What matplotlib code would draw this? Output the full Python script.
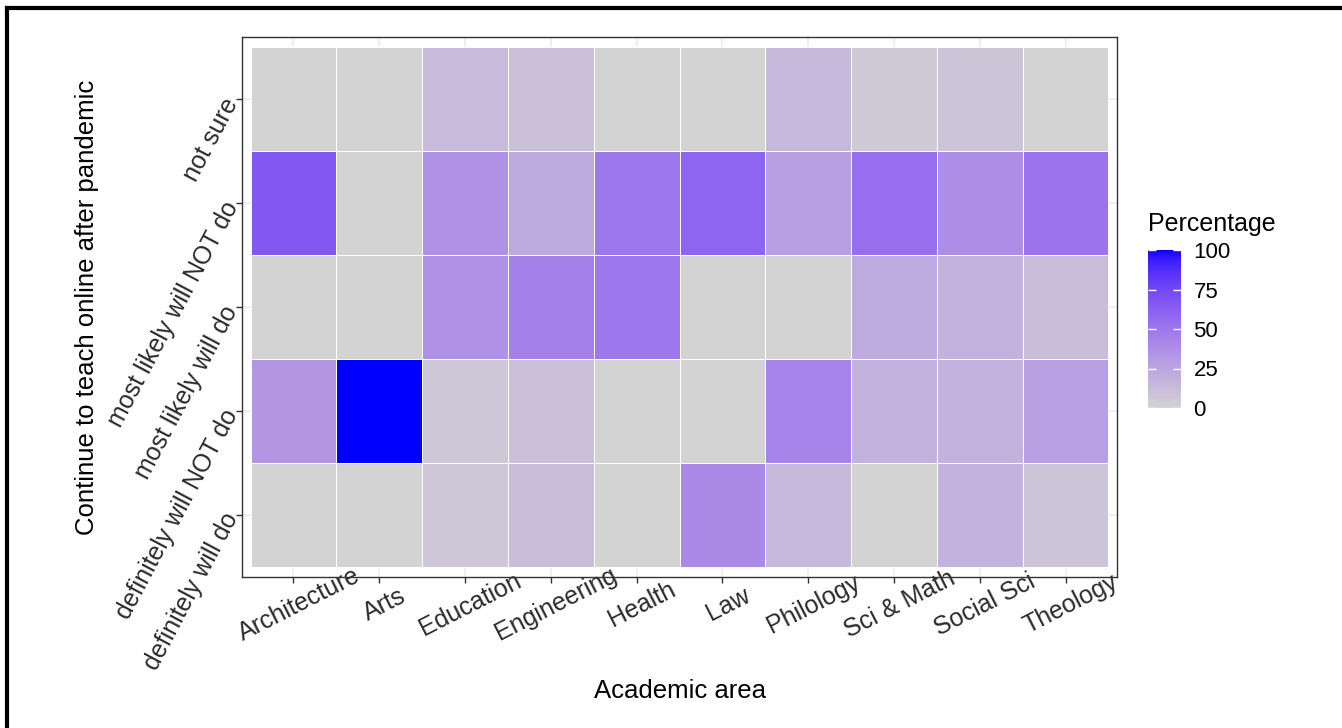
import numpy as np
import matplotlib
matplotlib.use('Agg')
import matplotlib.pyplot as plt
from matplotlib.colors import ListedColormap
from matplotlib.lines import Line2D

plt.rcParams['font.family'] = ['Liberation Sans', 'DejaVu Sans']

areas = ['Architecture', 'Arts', 'Education', 'Engineering', 'Health',
         'Law', 'Philology', 'Sci & Math', 'Social Sci', 'Theology']
responses = ['definitely will do', 'definitely will NOT do', 'most likely will do',
             'most likely will NOT do', 'not sure']

# percentage per response (rows) and academic area (columns)
def_do = [0, 0, 7, 12, 0, 40, 14.3, 0, 18, 8]
def_not = [33.3, 100, 7, 10, 0, 0, 42.9, 18, 18, 28]
likely_do = [0, 0, 36, 45, 50, 0, 0, 22, 18, 12]
likely_not = [66.7, 0, 36, 23, 50, 60, 28.6, 55, 38, 52]
not_sure = [0, 0, 14, 10, 0, 0, 14.3, 5, 8, 0]

pct = np.array([def_do, def_not, likely_do, likely_not, not_sure])


# gradient lightgray -> blue interpolated in CIELAB (like ggplot scale_fill_gradient)
def srgb_to_lab(rgb):
    rgb = np.asarray(rgb, float)
    lin = np.where(rgb <= 0.04045, rgb / 12.92, ((rgb + 0.055) / 1.055) ** 2.4)
    m = np.array([[0.4124, 0.3576, 0.1805],
                  [0.2126, 0.7152, 0.0722],
                  [0.0193, 0.1192, 0.9505]])
    xyz = m @ lin / np.array([0.95047, 1.0, 1.08883])
    f = np.where(xyz > 0.008856, np.cbrt(xyz), 7.787 * xyz + 16 / 116)
    return np.array([116 * f[1] - 16, 500 * (f[0] - f[1]), 200 * (f[1] - f[2])])


def lab_to_srgb(lab):
    L, a, b = lab
    fy = (L + 16) / 116
    fx = fy + a / 500
    fz = fy - b / 200
    f = np.array([fx, fy, fz])
    xyz = np.where(f ** 3 > 0.008856, f ** 3, (f - 16 / 116) / 7.787)
    xyz = xyz * np.array([0.95047, 1.0, 1.08883])
    minv = np.array([[3.2406, -1.5372, -0.4986],
                     [-0.9689, 1.8758, 0.0415],
                     [0.0557, -0.2040, 1.0570]])
    lin = minv @ xyz
    lin = np.clip(lin, 0, 1)
    rgb = np.where(lin <= 0.0031308, 12.92 * lin, 1.055 * lin ** (1 / 2.4) - 0.055)
    return np.clip(rgb, 0, 1)


lo = srgb_to_lab([211 / 255, 211 / 255, 211 / 255])
hi = srgb_to_lab([0, 0, 1])
cmap = ListedColormap([lab_to_srgb(lo + (hi - lo) * t) for t in np.linspace(0, 1, 256)])

fig = plt.figure(figsize=(13.42, 7.28), dpi=100)
W, H = 1342, 728
ax = fig.add_axes([242 / W, (H - 577) / H, (1117 - 242) / W, (577 - 37) / H])

nx, ny = len(areas), len(responses)
ax.set_axisbelow(True)
ax.grid(True, color='#EBEBEB', linewidth=1.1)
mesh = ax.pcolormesh(np.arange(nx + 1) - 0.5, np.arange(ny + 1) - 0.5, pct,
                     cmap=cmap, vmin=0, vmax=100, edgecolors='white', linewidth=0.7)
ax.set_xlim(-0.6, nx - 0.4)
ax.set_ylim(-0.6, ny - 0.4)
ax.set_xticks(range(nx))
ax.set_yticks(range(ny))
ax.set_xticklabels(areas, rotation=27, ha='center', va='top', rotation_mode='anchor')
ax.set_yticklabels(responses, rotation=62, ha='right', va='center', rotation_mode='anchor')
ax.tick_params(length=4, width=1, color='#333333', labelsize=18, labelcolor='#2b2b2b', pad=3)
ax.tick_params(axis='x', pad=8)
for s in ax.spines.values():
    s.set_color('#333333')
    s.set_linewidth(1)

ax.set_xlabel('Academic area', fontsize=18.5, labelpad=24)
ax.set_ylabel('Continue to teach online after pandemic', fontsize=18.5, labelpad=3)

# colour bar legend
cax = fig.add_axes([1148 / W, (H - 408) / H, 33 / W, 158 / H])
cb = fig.colorbar(mesh, cax=cax, ticks=[0, 25, 50, 75, 100])
cb.outline.set_visible(False)
cax.tick_params(direction='in', length=6, width=1, colors='white', left=True, right=True,
                labelsize=16, labelcolor='black', pad=9)
fig.text(1148 / W, (H - 224) / H, 'Percentage', fontsize=18, va='center', ha='left')

# black frame at top and left
fig.add_artist(Line2D([7 / W, 1], [1 - 8 / H, 1 - 8 / H], color='black', linewidth=3))
fig.add_artist(Line2D([7 / W, 7 / W], [0, 1 - 8 / H], color='black', linewidth=3))

fig.savefig('out.png', dpi=100, facecolor='white')
